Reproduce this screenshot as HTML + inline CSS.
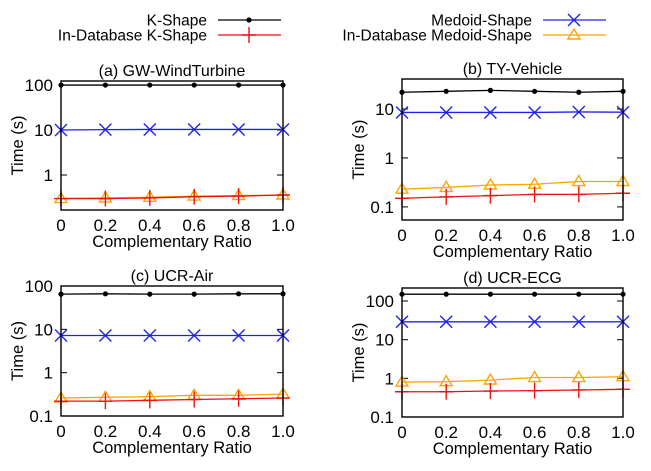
<!DOCTYPE html>
<html><head><meta charset="utf-8"><style>
body{margin:0;background:#fff;}
svg{display:block;font-family:"Liberation Sans",sans-serif;}
</style></head><body>
<svg id="chart" width="651" height="471" viewBox="0 0 651 471" xmlns="http://www.w3.org/2000/svg">
<g id="legend"></g>
<g id="panels"></g>
</svg>
<script>
const categories=[0,0.2,0.4,0.6,0.8,1.0];
const tickLabelsX=["0","0.2","0.4","0.6","0.8","1.0"];
const seriesNames=["K-Shape","Medoid-Shape","In-Database K-Shape","In-Database Medoid-Shape"];
const titles=["(a) GW-WindTurbine","(b) TY-Vehicle","(c) UCR-Air","(d) UCR-ECG"];
const kShapeA=[100,100,100,100,100,100];
const medoidA=[10,10.2,10.3,10.3,10.3,10.3];
const idbKA=[0.3,0.3,0.31,0.33,0.34,0.36];
const idbMA=[0.3,0.31,0.32,0.34,0.35,0.36];
const kShapeB=[22,23,24,23,22,23];
const medoidB=[8.5,8.5,8.5,8.5,8.7,8.6];
const idbKB=[0.15,0.16,0.17,0.18,0.18,0.19];
const idbMB=[0.23,0.25,0.28,0.29,0.33,0.33];
const kShapeC=[65,66,65,65,66,66];
const medoidC=[7.2,7.2,7.2,7.2,7.2,7.2];
const idbKC=[0.22,0.22,0.23,0.24,0.25,0.26];
const idbMC=[0.26,0.27,0.28,0.30,0.30,0.32];
const kShapeD=[150,150,150,150,150,150];
const medoidD=[29,29,29,29,29,29];
const idbKD=[0.45,0.45,0.47,0.48,0.5,0.52];
const idbMD=[0.8,0.82,0.9,1.05,1.05,1.1];
const yTicksA=[1,10,100], yTicksB=[0.1,1,10], yTicksC=[0.1,1,10,100], yTicksD=[0.1,1,10,100];
const yTickLabelsA=["1","10","100"], yTickLabelsB=["0.1","1","10"], yTickLabelsC=["0.1","1","10","100"], yTickLabelsD=["0.1","1","10","100"];

const NS="http://www.w3.org/2000/svg";
const colors=["#000","#2222ee","#ee1111","#ffa500"];
const markers=["dot","x","plus","tri"];
function mk(tag,attrs,parent){const e=document.createElementNS(NS,tag);for(const k in attrs)e.setAttribute(k,attrs[k]);parent.appendChild(e);return e;}
function marker(type,x,y,c,g){
  if(type==="dot"){const m=mk("circle",{cx:x,cy:y,r:2.6,fill:c},g);return m;}
  if(type==="x"){const m=mk("path",{d:`M${x-6} ${y-6}L${x+6} ${y+6}M${x-6} ${y+6}L${x+6} ${y-6}`,stroke:c,"stroke-width":1.4,fill:"none"},g);return m;}
  if(type==="plus"){const m=mk("path",{d:`M${x-7} ${y}L${x+7} ${y}M${x} ${y-8}L${x} ${y+8}`,stroke:c,"stroke-width":1.4,fill:"none"},g);return m;}
  const m=mk("path",{d:`M${x} ${y-6}L${x+6} ${y+4}L${x-6} ${y+4}Z`,stroke:c,"stroke-width":1.4,fill:"none"},g);return m;
}
const panels=[
 {x0:61,x1:283,y0:81,y1:210,ymin:0.167,ymax:123,series:[kShapeA,medoidA,idbKA,idbMA],ticks:yTicksA,labels:yTickLabelsA,name:"panel-a"},
 {x0:402,x1:623,y0:79,y1:220,ymin:0.054,ymax:41,series:[kShapeB,medoidB,idbKB,idbMB],ticks:yTicksB,labels:yTickLabelsB,name:"panel-b"},
 {x0:61,x1:283,y0:286,y1:416,ymin:0.1,ymax:100,series:[kShapeC,medoidC,idbKC,idbMC],ticks:yTicksC,labels:yTickLabelsC,name:"panel-c"},
 {x0:402,x1:623,y0:288,y1:417,ymin:0.1,ymax:217,series:[kShapeD,medoidD,idbKD,idbMD],ticks:yTicksD,labels:yTickLabelsD,name:"panel-d"}
];
const root=document.getElementById("panels");
panels.forEach((p,pi)=>{
  const g=mk("g",{},root);
  
  
  const xs=v=>p.x0+(v-categories[0])/(categories[categories.length-1]-categories[0])*(p.x1-p.x0);
  const ys=v=>p.y1-(Math.log10(v)-Math.log10(p.ymin))/(Math.log10(p.ymax)-Math.log10(p.ymin))*(p.y1-p.y0);
  const t=mk("text",{x:(p.x0+p.x1)/2,y:p.y0-5,"text-anchor":"middle","font-size":16},g);t.textContent=titles[pi];
  
  
  p.ticks.forEach((tv,i)=>{
    const y=ys(tv);
    mk("line",{x1:p.x0,x2:p.x0+6,y1:y,y2:y,stroke:"#000"},g);
    mk("line",{x1:p.x1,x2:p.x1-6,y1:y,y2:y,stroke:"#000"},g);
    const l=mk("text",{x:p.x0-8,y:y+6,"text-anchor":"end","font-size":17},g);l.textContent=p.labels[i];
    
    
  });
  categories.forEach((c,i)=>{
    const x=xs(c);
    const l=mk("text",{x:x,y:p.y1+21,"text-anchor":"middle","font-size":17},g);l.textContent=tickLabelsX[i];
    
    
  });
  const xl=mk("text",{x:(p.x0+p.x1)/2,y:p.y1+37,"text-anchor":"middle","font-size":16.5},g);xl.textContent="Complementary Ratio";
  
  
  const cy=(p.y0+p.y1)/2, cx=p.x0-38;
  const yl=mk("text",{x:cx,y:cy,"text-anchor":"middle","font-size":16.5,transform:`rotate(-90 ${cx} ${cy})`},g);yl.textContent="Time (s)";
  
  
  const order=[0,1,3,2];
  order.forEach(si=>{
    const vals=p.series[si];
    const sg=mk("g",{},g);
    
    
    const pts=categories.map((c,i)=>xs(c)+","+ys(vals[i])).join(" ");
    mk("polyline",{points:pts,fill:"none",stroke:colors[si],"stroke-width":1.3},sg);
    categories.forEach((c,i)=>{
      const m=marker(markers[si],xs(c),ys(vals[i]),colors[si],sg);
      
      
    });
  });
  const b=mk("rect",{x:p.x0,y:p.y0,width:p.x1-p.x0,height:p.y1-p.y0,fill:"none",stroke:"#000","stroke-width":1.4},g);
  
  
});
const lg=document.getElementById("legend");
const legendPos=[[207,218,20],[532,543,20],[207,218,35],[532,543,35]];
seriesNames.forEach((n,i)=>{
  const [tx,lx,y]=legendPos[i];
  const e=mk("g",{},lg);
  
  
  const t=mk("text",{x:tx,y:y+5.5,"text-anchor":"end","font-size":15.5},e);t.textContent=n;
  mk("line",{x1:lx,x2:lx+63,y1:y,y2:y,stroke:colors[i],"stroke-width":1.3},e);
  marker(markers[i],lx+31,y,colors[i],e);
});
</script>
</body></html>
